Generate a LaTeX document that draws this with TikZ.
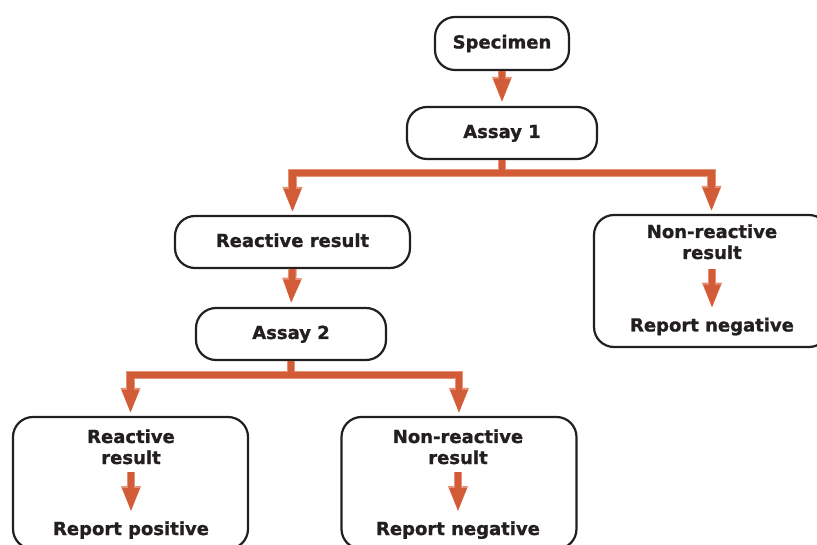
\documentclass[tikz,border=0pt]{standalone}
\usepackage{fontspec}
\setmainfont{DejaVu Sans}[BoldFeatures={FakeBold=1.2}]
\usetikzlibrary{arrows.meta}

\definecolor{ink}{HTML}{231F20}
\definecolor{flowdark}{HTML}{D35C38}
\definecolor{flowlight}{HTML}{E69275}

\tikzset{
  labelfont/.style={font=\fontsize{18}{21}\selectfont\bfseries, text=ink},
  box/.style={draw=ink, line width=2.2pt, rounded corners=20pt,
    minimum width=235pt, minimum height=52pt, inner sep=0pt,
    text height=13pt, text depth=3pt, labelfont},
  tag/.style={inner sep=0pt, align=center, labelfont},
  flowout/.style={draw=flowlight, line width=8.6pt, line join=miter},
  flowin/.style={draw=flowdark, line width=6.4pt, line join=miter},
  tipout/.tip={Triangle[width=18pt,length=26pt]},
  tipin/.tip={Triangle[width=15.5pt,length=24pt]},
}

% straight arrow: outline pass, then core pass
\newcommand\flowarrow[2]{%
  \draw[flowout,-tipout,#1] #2;
  \draw[flowin,-tipin,#1] #2;}
% forked arrow: source, fork point, left target, right target
\newcommand\flowfork[4]{%
  \draw[flowout,-tipout,shorten >=2pt] (#1.south) -- (#2) -| (#3.north);
  \draw[flowout,-tipout,shorten >=2pt] (#1.south) -- (#2) -| (#4.north);
  \draw[flowin,-tipin,shorten >=2pt] (#1.south) -- (#2) -| (#3.north);
  \draw[flowin,-tipin,shorten >=2pt] (#1.south) -- (#2) -| (#4.north);}

\begin{document}
\begin{tikzpicture}[x=1pt,y=-1pt]
  \useasboundingbox (0,0) rectangle (817,545);
  \clip (0,0) rectangle (817,545);

  % process boxes
  \node[box, minimum width=134pt, minimum height=53pt] (spec) at (502,43.5) {Specimen};
  \node[box, minimum width=190pt] (a1) at (502,133) {Assay 1};
  \node[box] (rr) at (292.5,242) {Reactive result};
  \node[box, minimum width=190pt] (a2) at (291,334) {Assay 2};

  % outcome boxes
  \node[box, minimum height=132pt] (nrbox) at (711.5,281) {};
  \node[box, minimum height=132pt] (pbox) at (130.5,483) {};
  \node[box, minimum height=132pt] (nbox) at (459,483) {};

  % outcome texts (base = baseline of the last line)
  \node[tag, anchor=base] (nrres) at (712,259) {Non-reactive\\result};
  \node[tag, anchor=base] (nrrep) at (712,331.5) {Report negative};
  \node[tag, anchor=base] (pres) at (131,464) {Reactive\\result};
  \node[tag, anchor=base] (prep) at (131,535) {Report positive};
  \node[tag, anchor=base] (nres) at (458,464) {Non-reactive\\result};
  \node[tag, anchor=base] (nrep) at (458,535) {Report negative};

  % fork points
  \coordinate (f1) at ([yshift=-13pt]a1.south);
  \coordinate (f2) at ([yshift=-14pt]a2.south);

  % connectors
  \flowarrow{shorten >=3pt}{(spec.south) -- (a1.north)}
  \flowfork{a1}{f1}{rr}{nrbox}
  \flowarrow{shorten >=3pt}{(rr.south) -- (a2.north)}
  \flowfork{a2}{f2}{pbox}{nbox}
  \flowarrow{shorten <=10pt, shorten >=9pt}{(nrres.south) -- (nrrep.north)}
  \flowarrow{shorten <=8pt, shorten >=9pt}{(pres.south) -- (prep.north)}
  \flowarrow{shorten <=8pt, shorten >=9pt}{(nres.south) -- (nrep.north)}
\end{tikzpicture}
\end{document}
